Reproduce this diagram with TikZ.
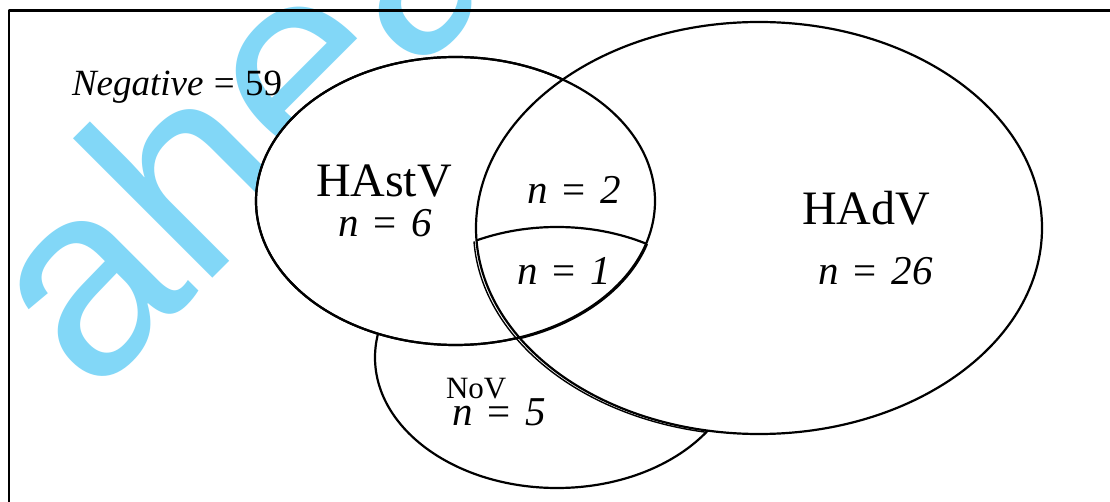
\documentclass[tikz,border=0pt]{standalone}
\usepackage{fontspec}
\setmainfont{Liberation Serif}
\newfontfamily\wmfont{Liberation Sans}
\definecolor{wmblue}{RGB}{130,215,247}
\begin{document}
\begin{tikzpicture}[x=1pt,y=-1pt,line join=round,
  venn/.style={line width=2.2pt},
  lbl/.style={inner sep=0pt,outer sep=0pt,anchor=base west},
  big/.style={font=\fontsize{48}{48}\selectfont},
  num/.style={font=\fontsize{41}{41}\selectfont},
  small/.style={font=\fontsize{31}{31}\selectfont}]
\clip (0,0) rectangle (1110,502);
\fill[white] (0,0) rectangle (1110,502);
% watermark
\node[lbl,rotate=45,text=wmblue,font=\wmfont\fontsize{272}{272}\selectfont] (wm) at (92.7,398.3) {ahead};
% frame
\draw[line width=2.4pt] (9,520) -- (9,10.5) -- (1130,10.5);
% NoV
\filldraw[venn,fill=white] (557,357.5) ellipse [x radius=182,y radius=130.5];
% HAstV
\filldraw[venn,fill=white] (455.5,201) ellipse [x radius=199.5,y radius=144];
% HAdV
\filldraw[venn,fill=white] (759,228) ellipse [x radius=283,y radius=206];
\draw[venn] (455.5,201) ellipse [x radius=199.5,y radius=144];
% NoV top arc inside HAstV and HAdV
\begin{scope}
  \clip (455.5,201) ellipse [x radius=199.5,y radius=144];
  \clip (759,228) ellipse [x radius=283,y radius=206];
  \draw[venn] (557,357.5) ellipse [x radius=182,y radius=130.5];
\end{scope}
% doubled edges
\begin{scope}
  \clip (557,357.5) ellipse [x radius=182,y radius=130.5];
  \draw[line width=1.4pt] (756.5,229.5) ellipse [x radius=283,y radius=206];
  \clip (759,228) ellipse [x radius=283,y radius=206];
  \draw[line width=1.4pt] (456.5,202) ellipse [x radius=199.5,y radius=144];
\end{scope}
% labels
\node[lbl,font=\fontsize{37}{37}\selectfont] (neg) at (72,96) {\textit{Negative}\hspace{0.28em}=\hspace{0.28em}59};
\node[lbl,big] (hastv) at (316,197) {HAstV};
\node[lbl,num] (n6) at (338,237) {\textit{n}\hspace{0.37em}=\hspace{0.37em}\textit{6}};
\node[lbl,num] (n2) at (527,204) {\textit{n}\hspace{0.37em}=\hspace{0.37em}\textit{2}};
\node[lbl,num] (n1) at (517,285) {\textit{n}\hspace{0.37em}=\hspace{0.37em}\textit{1}};
\node[lbl,big] (hadv) at (802,225) {HAdV};
\node[lbl,num] (n26) at (818,285) {\textit{n}\hspace{0.37em}=\hspace{0.37em}\textit{26}};
\node[lbl,small] (nov) at (446,398) {NoV};
\node[lbl,num] (n5) at (452,425) {\textit{n}\hspace{0.37em}=\hspace{0.37em}\textit{5}};
\end{tikzpicture}
\end{document}
